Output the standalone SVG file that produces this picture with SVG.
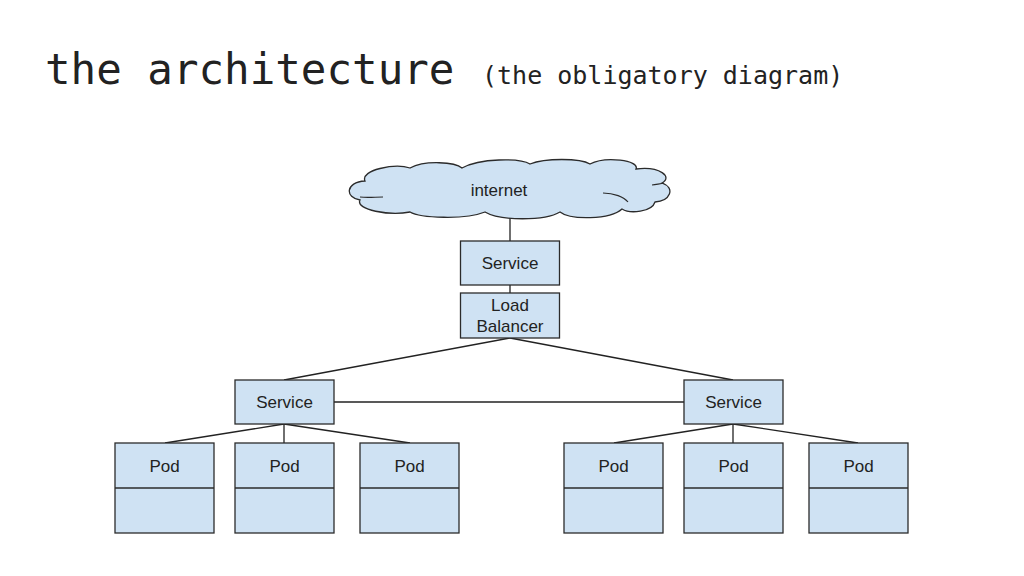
<svg xmlns="http://www.w3.org/2000/svg" width="1024" height="576" viewBox="0 0 1024 576">
<style>
.box{fill:#cfe2f3;stroke:#2b2b2b;stroke-width:1.3}
.lbl{font-family:"Liberation Sans",Arial,sans-serif;font-size:17px;fill:#222;text-anchor:middle}
.ttl{font-family:"DejaVu Sans Mono","Liberation Mono",monospace;fill:#222}
.con line{stroke:#222;stroke-width:1.3}
</style>
<rect width="1024" height="576" fill="#fff"/>
<text class="ttl" x="45" y="84" font-size="42.5">the architecture</text>
<text class="ttl" x="482" y="84" font-size="25">(the obligatory diagram)</text>
<g class="con">
<line x1="510" y1="216" x2="510" y2="241"/>
<line x1="510" y1="285" x2="510" y2="293"/>
<line x1="510" y1="338" x2="284" y2="380"/>
<line x1="510" y1="338" x2="733" y2="380"/>
<line x1="334" y1="402" x2="684" y2="402"/>
<line x1="284" y1="424" x2="165" y2="443"/>
<line x1="284" y1="424" x2="284" y2="443"/>
<line x1="284" y1="424" x2="410" y2="443"/>
<line x1="733" y1="424" x2="614" y2="443"/>
<line x1="733" y1="424" x2="733" y2="443"/>
<line x1="733" y1="424" x2="858" y2="443"/>
</g>
<g id="internet">
<path class="box" d="M365,181 C360,170 395,163 410,168 C425,160 455,162 462,168 C480,158 520,158 530,164 C545,158 580,158 590,164 C605,156 640,160 636,169 C660,166 673,177 662,183 C676,188 670,201 655,202 C652,212 630,214 622,209 C610,220 570,220 560,212 C545,221 500,221 485,212 C465,220 420,218 410,212 C390,216 355,210 360,200 C345,198 345,182 365,181 Z"/>
<path d="M360,197 C368,198 375,197 383,197 M603,193 C614,193 624,197 628,202 M652,185 C657,184 661,184 664,183" fill="none" stroke="#2b2b2b" stroke-width="1.2"/>
<text class="lbl" x="499" y="196">internet</text>
</g>
<g id="service-top"><rect class="box" x="460.5" y="241" width="99" height="44"/><text class="lbl" x="510" y="269">Service</text></g>
<g id="load-balancer"><rect class="box" x="460.5" y="293" width="99" height="45"/><text class="lbl" x="510" y="311">Load</text><text class="lbl" x="510" y="332">Balancer</text></g>
<g id="service-left"><rect class="box" x="235" y="380" width="99" height="44"/><text class="lbl" x="284.5" y="408">Service</text></g>
<g id="service-right"><rect class="box" x="684" y="380" width="99" height="44"/><text class="lbl" x="733.5" y="408">Service</text></g>
<g id="pod-1"><rect class="box" x="115" y="443" width="99" height="90"/><line x1="115" y1="488" x2="214" y2="488" stroke="#2b2b2b" stroke-width="1.3"/><text class="lbl" x="164.5" y="472">Pod</text></g>
<g id="pod-2"><rect class="box" x="235" y="443" width="99" height="90"/><line x1="235" y1="488" x2="334" y2="488" stroke="#2b2b2b" stroke-width="1.3"/><text class="lbl" x="284.5" y="472">Pod</text></g>
<g id="pod-3"><rect class="box" x="360" y="443" width="99" height="90"/><line x1="360" y1="488" x2="459" y2="488" stroke="#2b2b2b" stroke-width="1.3"/><text class="lbl" x="409.5" y="472">Pod</text></g>
<g id="pod-4"><rect class="box" x="564" y="443" width="99" height="90"/><line x1="564" y1="488" x2="663" y2="488" stroke="#2b2b2b" stroke-width="1.3"/><text class="lbl" x="613.5" y="472">Pod</text></g>
<g id="pod-5"><rect class="box" x="684" y="443" width="99" height="90"/><line x1="684" y1="488" x2="783" y2="488" stroke="#2b2b2b" stroke-width="1.3"/><text class="lbl" x="733.5" y="472">Pod</text></g>
<g id="pod-6"><rect class="box" x="809" y="443" width="99" height="90"/><line x1="809" y1="488" x2="908" y2="488" stroke="#2b2b2b" stroke-width="1.3"/><text class="lbl" x="858.5" y="472">Pod</text></g>
</svg>
